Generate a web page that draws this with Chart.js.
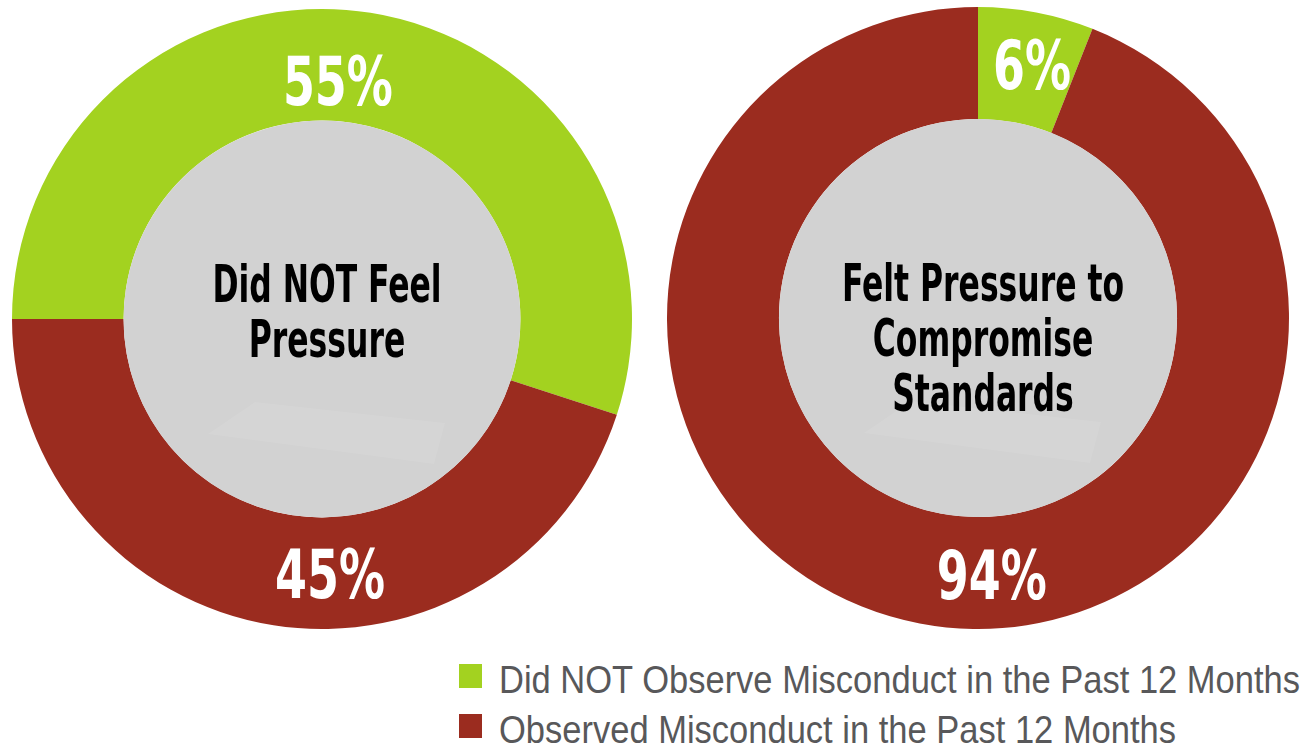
<!DOCTYPE html>
<html><head><meta charset="utf-8">
<script src="https://cdn.jsdelivr.net/npm/chart.js@4.4.1/dist/chart.umd.min.js"></script>
<style>
html,body{margin:0;padding:0;background:#fff;width:1306px;height:746px;overflow:hidden;position:relative}
#c1{position:absolute;left:0;top:0}
#c2{position:absolute;left:660px;top:0}
.lg{position:absolute;font-family:"Liberation Sans Narrow","Liberation Sans",Arial,sans-serif;font-size:39px;line-height:39px;color:#58585a;white-space:nowrap;transform-origin:0 0}
.sw{position:absolute;width:23px;height:24px}
</style></head><body>
<canvas id="c1" width="644" height="638"></canvas>
<canvas id="c2" width="636" height="636"></canvas>
<div id="legend"></div>
<script>
// ---- data ----
const categories = ['Did NOT Observe Misconduct in the Past 12 Months', 'Observed Misconduct in the Past 12 Months'];
const titleNoPressure = ['Did NOT Feel', 'Pressure'];
const titlePressure = ['Felt Pressure to', 'Compromise', 'Standards'];
const noPressureValues = [55, 45];
const pressureValues = [6, 94];
const seriesColors = ['#a3d220', '#9b2c1f'];

const FONT_HEAVY = '"DejaVu Sans Condensed", "DejaVu Sans", sans-serif';

function drawScaled(ctx, text, x, baseline, font, scale, color) {
  ctx.save();
  ctx.font = font;
  ctx.fillStyle = color;
  ctx.textAlign = 'center';
  ctx.textBaseline = 'alphabetic';
  ctx.translate(x, baseline);
  ctx.scale(scale, 1);
  ctx.fillText(text, 0, 0);
  ctx.restore();
}

const ringPlugin = {
  id: 'ringDecor',
  afterDatasetsDraw(chart, args, opts) {
    const ctx = chart.ctx;
    const meta = chart.getDatasetMeta(0);
    const a0 = meta.data[0];
    const cx = a0.x, cy = a0.y, rin = a0.innerRadius, rout = a0.outerRadius;
    // grey center disc
    ctx.save();
    ctx.beginPath();
    ctx.arc(cx, cy, rin, 0, Math.PI * 2);
    ctx.fillStyle = '#d2d2d2';
    ctx.fill();
    // faint watermark shape
    ctx.clip();
    ctx.beginPath();
    ctx.moveTo(cx - 67, cy + 83);
    ctx.lineTo(cx + 123, cy + 104);
    ctx.lineTo(cx + 112, cy + 145);
    ctx.lineTo(cx - 114, cy + 115);
    ctx.closePath();
    ctx.fillStyle = 'rgba(255,255,255,0.08)';
    ctx.fill();
    ctx.restore();
    // center title
    const tFont = 'bold 52px ' + FONT_HEAVY;
    ctx.font = tFont;
    const tScale = 282 / ctx.measureText('Felt Pressure to').width;
    opts.title.forEach((line, i) => {
      drawScaled(ctx, line, cx + 5, cy - 17 + i * 55, tFont, tScale, '#000');
    });
    // value labels
    const lFont = 'bold 68px ' + FONT_HEAVY;
    ctx.font = lFont;
    const lScale = 110 / ctx.measureText('55%').width;
    const cap = 68 * 0.729;
    const data = chart.data.datasets[0].data;
    data.forEach((v, i) => {
      const ang = opts.angles[i] * Math.PI / 180;
      const r = rin + (rout - rin) * opts.radial[i];
      const x = cx + r * Math.sin(ang);
      const y = cy - r * Math.cos(ang);
      drawScaled(ctx, v + '%', x, y + cap / 2, lFont, lScale, '#ffffff');
    });
  }
};

function makeChart(id, values, rotation, pad, title, angles, radial) {
  return new Chart(document.getElementById(id), {
    type: 'doughnut',
    data: {
      labels: categories,
      datasets: [{ data: values, backgroundColor: seriesColors, borderWidth: 0, hoverOffset: 0 }]
    },
    options: {
      responsive: false,
      animation: false,
      devicePixelRatio: 1,
      rotation: rotation,
      cutout: '64%',
      layout: { padding: pad },
      plugins: {
        legend: { display: false },
        tooltip: { enabled: false },
        ringDecor: { title: title, angles: angles, radial: radial }
      }
    },
    plugins: [ringPlugin]
  });
}

makeChart('c1', noPressureValues, -90, 9, titleNoPressure, [3.8, 178.2], [0.37, 0.5]);
makeChart('c2', pressureValues, 0, 7, titlePressure, [12, 176.9], [0.54, 0.51]);

// ---- HTML legend ----
const lg = document.getElementById('legend');
categories.forEach((c, i) => {
  const sw = document.createElement('div');
  sw.className = 'sw';
  sw.style.left = '459px';
  sw.style.top = (664 + i * 50) + 'px';
  sw.style.background = seriesColors[i];
  lg.appendChild(sw);
  const t = document.createElement('div');
  t.className = 'lg';
  t.textContent = c;
  t.style.left = '499px';
  t.style.top = (660 + i * 50) + 'px';
  lg.appendChild(t);
});
const items = lg.querySelectorAll('.lg');
const sc = 801 / items[0].getBoundingClientRect().width;
items.forEach(el => { el.style.transform = 'scaleX(' + sc + ')'; });
</script>
</body></html>
